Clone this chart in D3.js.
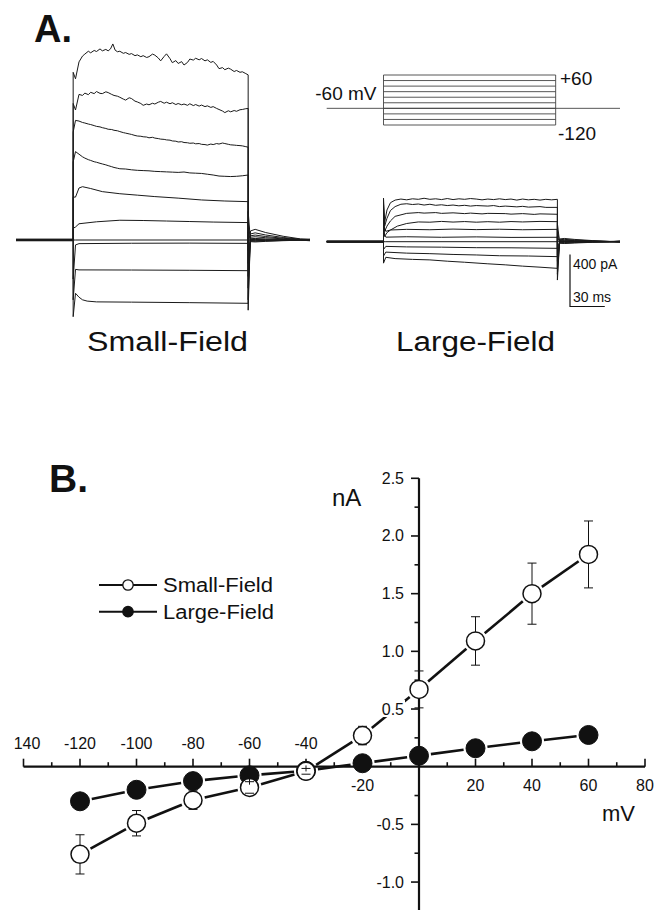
<!DOCTYPE html>
<html>
<head>
<meta charset="utf-8">
<script src="https://cdn.jsdelivr.net/npm/d3@7"></script>
<style>
  html, body { margin: 0; padding: 0; background: #fff; }
  svg { display: block; font-family: "Liberation Sans", Arial, Helvetica, sans-serif; }
</style>
</head>
<body>
<svg id="fig" width="662" height="910"></svg>
<script>
// ---------- panel A: current traces (t in ms, current in pA) ----------
const stepMv = [60, 40, 20, 0, -20, -40, -60, -80, -100, -120];

// small-field cell
const sfHold = [6, 4, 2, 0, -2, 3, -4, 1, -6, 5];
const sfOnSpike = [1290, 1050, 830, 600, 330, 90, 0, -300, -460, -590];
const sfOffSpike = [-540, -460, -370, -280, -180, -80, 0, 60, 140, 220];
const sf60 = [[2,1240],[5,1370],[8,1415],[10,1430],[13,1452],[15,1440],[18,1458],[20,1450],[23,1470],[25,1455],[28,1466],[30,1455],[32,1470],[34,1508],[36,1460],[38,1448],[40,1452],[43,1436],[45,1442],[48,1428],[50,1434],[53,1418],[55,1424],[58,1410],[60,1418],[63,1404],[65,1410],[68,1430],[70,1422],[73,1400],[75,1378],[78,1412],[80,1432],[83,1395],[85,1364],[88,1380],[90,1358],[93,1372],[95,1346],[98,1366],[100,1392],[103,1384],[105,1398],[108,1386],[110,1396],[113,1378],[115,1386],[118,1366],[120,1374],[123,1346],[125,1318],[128,1326],[130,1310],[133,1322],[135,1314],[138,1296],[140,1304],[143,1290],[145,1294],[148,1280],[150,1270]];
const sf40 = [[2,1000],[5,1120],[8,1112],[10,1130],[13,1118],[15,1136],[18,1126],[20,1142],[23,1128],[25,1126],[28,1140],[30,1134],[33,1120],[35,1112],[38,1106],[40,1098],[43,1084],[45,1076],[48,1094],[50,1088],[53,1068],[55,1062],[58,1050],[60,1036],[63,1046],[65,1040],[68,1052],[70,1046],[73,1060],[75,1066],[78,1052],[80,1060],[83,1048],[85,1056],[88,1042],[90,1050],[93,1040],[95,1046],[98,1036],[100,1048],[103,1034],[105,1042],[108,1030],[110,1038],[113,1026],[115,1032],[118,1020],[120,1026],[123,1012],[125,1004],[128,992],[130,980],[133,994],[135,986],[138,996],[140,990],[143,1002],[145,1004],[148,1010],[150,1012]];
const sf20 = [[2,920],[5,915],[8,904],[10,900],[13,892],[15,888],[18,880],[20,874],[23,870],[25,864],[28,858],[30,852],[33,850],[35,844],[38,840],[40,834],[43,826],[45,822],[48,816],[50,812],[53,804],[55,800],[58,798],[60,794],[63,792],[65,786],[68,790],[70,784],[73,780],[75,776],[78,774],[80,770],[83,768],[85,762],[88,760],[90,754],[93,756],[95,750],[98,748],[100,744],[103,746],[105,740],[108,742],[110,736],[113,734],[115,730],[118,738],[120,734],[123,742],[125,738],[128,746],[130,742],[133,736],[135,732],[138,730],[140,728],[143,726],[145,724],[148,718],[150,714]];
const sf0 = [[2,680],[5,660],[8,640],[10,630],[13,618],[15,612],[18,602],[20,598],[23,590],[25,585],[28,578],[30,572],[33,564],[35,558],[38,552],[40,548],[45,546],[50,540],[55,536],[60,534],[65,532],[70,528],[75,526],[80,524],[85,522],[90,520],[95,523],[100,516],[105,514],[110,512],[115,506],[120,500],[125,492],[130,490],[135,488],[140,490],[145,494],[150,500]];
const sfM20 = [[2,330],[5,400],[8,410],[15,396],[25,372],[40,356],[55,345],[70,334],[90,322],[110,308],[130,300],[150,295]];
const sfM40 = [[2,100],[5,125],[20,140],[40,152],[60,150],[80,146],[100,142],[120,138],[150,134]];
const sfM60 = [[2,0],[150,0]];
const sfM80 = [[2,-38],[5,-28],[50,-25],[100,-24],[150,-26]];
const sfM100 = [[2,-226],[5,-230],[50,-231],[100,-233],[150,-236]];
const sfM120 = [[2,-410],[5,-440],[8,-460],[12,-470],[20,-476],[50,-478],[100,-482],[150,-487]];
const sfBodies = [sf60, sf40, sf20, sf0, sfM20, sfM40, sfM60, sfM80, sfM100, sfM120];
const sfTailPeak = [82, 55, 38, 25, 12, 4, 0, -5, -10, -15];

// large-field cell
const lfHold = [4, -3, 2, -1, 3, -4, 0, 2, -2, 5];
const lfOnSpike = [335, 290, 240, 180, 120, 60, 0, -60, -110, -165];
const lfOffSpike = [-295, -250, -200, -150, -100, -50, 0, 40, 90, 140];
const lf60 = [[1,150],[3,244],[6,300],[10,320],[15,328],[20,322],[25,330],[30,326],[35,334],[40,326],[45,330],[50,324],[55,332],[60,324],[65,330],[70,326],[75,332],[80,328],[85,322],[90,328],[95,324],[100,330],[105,324],[110,328],[115,320],[120,328],[125,322],[130,326],[135,320],[140,326],[145,322],[150,326]];
const lf40 = [[1,120],[3,180],[6,240],[10,270],[15,288],[20,292],[25,286],[30,290],[35,282],[40,288],[45,280],[50,284],[55,278],[60,282],[65,276],[70,280],[75,274],[80,278],[90,274],[95,278],[100,270],[105,274],[115,268],[120,272],[125,266],[135,270],[140,264],[150,264]];
const lf20 = [[1,80],[3,120],[6,160],[10,195],[20,218],[30,224],[35,220],[45,224],[50,218],[60,222],[70,216],[75,220],[85,214],[90,218],[105,216],[110,212],[120,216],[130,210],[135,214],[150,211]];
const lf0 = [[1,40],[3,70],[6,90],[12,120],[20,140],[30,152],[40,150],[50,156],[60,151],[70,155],[80,150],[90,154],[100,150],[110,155],[120,152],[135,156],[150,154]];
const lfM20 = [[2,80],[6,90],[20,95],[40,92],[60,97],[80,93],[100,96],[120,92],[150,95]];
const lfM40 = [[2,35],[20,38],[50,34],[80,37],[110,33],[150,34]];
const lfM60 = [[2,0],[150,0]];
const lfM80 = [[2,-36],[20,-40],[50,-42],[80,-46],[110,-47],[150,-51]];
const lfM100 = [[2,-80],[20,-88],[40,-92],[60,-98],[80,-102],[100,-108],[125,-110],[150,-115]];
const lfM120 = [[2,-120],[10,-130],[25,-136],[40,-140],[55,-150],[70,-158],[90,-170],[105,-178],[120,-188],[135,-196],[150,-205]];
const lfBodies = [lf60, lf40, lf20, lf0, lfM20, lfM40, lfM60, lfM80, lfM100, lfM120];
const lfTailPeak = [25, 18, 12, 8, 4, 2, 0, -6, -10, -14];

const holdingMv = -60;

// ---------- panel B: I-V relation ----------
const ivMv = [-120, -100, -80, -60, -40, -20, 0, 20, 40, 60];
const smallFieldNa = [-0.76, -0.49, -0.29, -0.18, -0.04, 0.27, 0.67, 1.09, 1.50, 1.84];
const smallFieldSem = [0.17, 0.11, 0.08, 0.05, 0.025, 0.08, 0.16, 0.21, 0.265, 0.29];
const largeFieldNa = [-0.30, -0.20, -0.125, -0.075, -0.035, 0.03, 0.095, 0.16, 0.22, 0.275];
const xTickValues = [-140, -120, -100, -80, -60, -40, -20, 20, 40, 60, 80];
const xTickText = ["140", "-120", "-100", "-80", "-60", "-40", "-20", "20", "40", "60", "80"];
const yTickValues = [2.5, 2.0, 1.5, 1.0, 0.5, -0.5, -1.0];

const svg = d3.select("#fig");
const ink = "#111";

// ================= Panel A =================
svg.append("text").attr("x", 34).attr("y", 42)
  .attr("font-size", 38).attr("font-weight", "bold").attr("fill", ink).text("A.");

const sfX = d3.scaleLinear([-49, 203], [16, 310]);
const sfY = d3.scaleLinear([0, 1000], [240, 110]);
const lfX = d3.scaleLinear([-49, 204], [326.7, 620]);
const lfY = d3.scaleLinear([0, 1000], [241.7, 111.7]);
const vY = d3.scaleLinear([-120, 60], [125, 75]);

function tracePoints(i, hold, onSpike, body, offSpike, tailPeak, tEnd) {
  const pts = [[-49, hold[i]], [0, hold[i]], [0, onSpike[i]]];
  body.forEach(p => pts.push(p));
  pts.push([150, offSpike[i]]);
  const tp = tailPeak[i];
  pts.push([152, tp * 0.85], [156, tp], [165, tp * 0.7], [180, tp * 0.35], [195, tp * 0.1], [tEnd, hold[i]]);
  return pts;
}

const sfLine = d3.line().x(d => sfX(d[0])).y(d => sfY(d[1]));
const lfLine = d3.line().x(d => lfX(d[0])).y(d => lfY(d[1]));

svg.append("g").selectAll("path")
  .data(stepMv.map((mv, i) => tracePoints(i, sfHold, sfOnSpike, sfBodies[i], sfOffSpike, sfTailPeak, 203)))
  .join("path")
  .attr("d", sfLine).attr("fill", "none").attr("stroke", "#1a1a1a").attr("stroke-width", 1);

svg.append("g").selectAll("path")
  .data(stepMv.map((mv, i) => tracePoints(i, lfHold, lfOnSpike, lfBodies[i], lfOffSpike, lfTailPeak, 204)))
  .join("path")
  .attr("d", lfLine).attr("fill", "none").attr("stroke", "#1a1a1a").attr("stroke-width", 1);

// voltage protocol
const proto = svg.append("g").attr("stroke", "#444").attr("stroke-width", 0.9).attr("fill", "none");
proto.append("line")
  .attr("x1", lfX(-49)).attr("x2", lfX(204)).attr("y1", vY(holdingMv)).attr("y2", vY(holdingMv));
proto.selectAll("line.step").data(stepMv).join("line").attr("class", "step")
  .attr("x1", lfX(0)).attr("x2", lfX(148.5)).attr("y1", d => vY(d)).attr("y2", d => vY(d));
[0, 148.5].forEach(t => {
  proto.append("line").attr("x1", lfX(t)).attr("x2", lfX(t))
    .attr("y1", vY(d3.max(stepMv))).attr("y2", vY(d3.min(stepMv)));
});
svg.append("text").attr("x", 376.5).attr("y", vY(holdingMv) - 8).attr("text-anchor", "end")
  .attr("font-size", 19).attr("fill", ink).text("-60 mV");
svg.append("text").attr("x", 560).attr("y", vY(60) + 9.5)
  .attr("font-size", 19).attr("fill", ink).text("+60");
svg.append("text").attr("x", 558).attr("y", vY(-120) + 15)
  .attr("font-size", 19).attr("fill", ink).text("-120");

// scale bar: 400 pA / 30 ms
const sbX = 570, sbY = 306.5;
const sbH = lfY(0) - lfY(400);
const sbW = lfX(30) - lfX(0);
svg.append("path")
  .attr("d", `M${sbX},${sbY - sbH}V${sbY}H${sbX + sbW}`)
  .attr("fill", "none").attr("stroke", ink).attr("stroke-width", 1.2);
svg.append("text").attr("x", sbX + 3).attr("y", sbY - sbH + 14)
  .attr("font-size", 14).attr("fill", ink).text("400 pA");
svg.append("text").attr("x", sbX + 3).attr("y", sbY - 5)
  .attr("font-size", 14).attr("fill", ink).text("30 ms");

svg.append("text").attr("x", 87).attr("y", 351).attr("font-size", 27)
  .attr("textLength", 161).attr("lengthAdjust", "spacingAndGlyphs").attr("fill", ink).text("Small-Field");
svg.append("text").attr("x", 396).attr("y", 351).attr("font-size", 27)
  .attr("textLength", 159).attr("lengthAdjust", "spacingAndGlyphs").attr("fill", ink).text("Large-Field");

// ================= Panel B =================
svg.append("text").attr("x", 49).attr("y", 492)
  .attr("font-size", 39).attr("font-weight", "bold").attr("fill", ink).text("B.");

const x = d3.scaleLinear([-140, 80], [23.5, 645]);
const y = d3.scaleLinear([-1.25, 2.5], [910.9, 478.3]);

const axes = svg.append("g").attr("stroke", ink);
axes.append("line").attr("x1", x(-140)).attr("x2", x(80)).attr("y1", y(0)).attr("y2", y(0)).attr("stroke-width", 2.2);
axes.append("line").attr("x1", x(0)).attr("x2", x(0)).attr("y1", y(2.5)).attr("y2", y(-1.25)).attr("stroke-width", 2.2);
axes.selectAll("line.xt").data(d3.range(-140, 81, 10)).join("line").attr("class", "xt")
  .attr("x1", d => x(d)).attr("x2", d => x(d))
  .attr("y1", y(0)).attr("y2", d => y(0) - (d % 20 === 0 ? 8 : 4.5))
  .attr("stroke-width", 1.6);
axes.selectAll("line.yt").data(d3.range(-1.0, 2.51, 0.25).filter(v => Math.abs(v) > 1e-6)).join("line").attr("class", "yt")
  .attr("x1", x(0)).attr("x2", d => x(0) - (Math.abs(d * 2 - Math.round(d * 2)) < 1e-6 ? 8 : 4.5))
  .attr("y1", d => y(d)).attr("y2", d => y(d))
  .attr("stroke-width", 1.6);

svg.append("g").selectAll("text").data(xTickValues).join("text")
  .attr("x", (d, i) => x(d) + (i === 0 ? 3.5 : 0))
  .attr("y", d => d <= -40 ? y(0) - 18 : y(0) + 24.5)
  .attr("text-anchor", "middle").attr("font-size", 16).attr("fill", ink)
  .text((d, i) => xTickText[i]);

svg.append("text").attr("x", 332).attr("y", 506).attr("font-size", 24).attr("fill", ink).text("nA");
svg.append("text").attr("x", 602).attr("y", 821).attr("font-size", 22).attr("fill", ink).text("mV");

const r = 9;
function segments(values) {
  const pts = ivMv.map((mv, i) => [x(mv), y(values[i])]);
  const segs = [];
  for (let i = 0; i < pts.length - 1; i++) {
    const [x1, y1] = pts[i], [x2, y2] = pts[i + 1];
    const d = Math.hypot(x2 - x1, y2 - y1);
    const ux = (x2 - x1) / d, uy = (y2 - y1) / d, g = r + 3;
    if (d > 2 * g) segs.push([x1 + ux * g, y1 + uy * g, x2 - ux * g, y2 - uy * g]);
  }
  return segs;
}

function drawLines(values) {
  svg.append("g").selectAll("line").data(segments(values)).join("line")
    .attr("x1", d => d[0]).attr("y1", d => d[1]).attr("x2", d => d[2]).attr("y2", d => d[3])
    .attr("stroke", ink).attr("stroke-width", 2.6);
}

// large-field (filled) below small-field (open)
drawLines(largeFieldNa);
svg.append("g").selectAll("circle").data(ivMv).join("circle")
  .attr("cx", d => x(d)).attr("cy", (d, i) => y(largeFieldNa[i])).attr("r", r + 0.5)
  .attr("fill", ink).attr("stroke", ink).attr("stroke-width", 1);
drawLines(smallFieldNa);

// y tick labels with white boxes (they break the line near 0.5)
const yl = svg.append("g").selectAll("g").data(yTickValues).join("g");
yl.append("rect")
  .attr("x", x(0) - 42).attr("y", d => y(d) - 9).attr("width", 28).attr("height", 17).attr("fill", "#fff");
yl.append("text")
  .attr("x", x(0) - 15).attr("y", d => y(d) + 5.5).attr("text-anchor", "end")
  .attr("font-size", 16).attr("fill", ink).text(d => d3.format(".1f")(d).replace("\u2212", "-"));

// error bars and open markers
const eb = svg.append("g").attr("stroke", ink).attr("stroke-width", 1);
ivMv.forEach((mv, i) => {
  const cx = x(mv), cy = y(smallFieldNa[i]);
  const e = y(smallFieldNa[i] - smallFieldSem[i]) - cy;
  if (e > r) {
    eb.append("line").attr("x1", cx).attr("x2", cx).attr("y1", cy - e).attr("y2", cy - r);
    eb.append("line").attr("x1", cx).attr("x2", cx).attr("y1", cy + r).attr("y2", cy + e);
  }
});
svg.append("g").selectAll("circle").data(ivMv).join("circle")
  .attr("cx", d => x(d)).attr("cy", (d, i) => y(smallFieldNa[i])).attr("r", r)
  .attr("fill", "#fff").attr("stroke", ink).attr("stroke-width", 1.5);
const caps = svg.append("g").attr("stroke", ink).attr("stroke-width", 1);
ivMv.forEach((mv, i) => {
  const cx = x(mv), cy = y(smallFieldNa[i]);
  const e = y(smallFieldNa[i] - smallFieldSem[i]) - cy;
  [cy - e, cy + e].forEach(cyCap => {
    caps.append("line").attr("x1", cx - 4.5).attr("x2", cx + 4.5).attr("y1", cyCap).attr("y2", cyCap);
  });
  if (e < r - 1) {
    caps.append("line").attr("x1", cx).attr("x2", cx).attr("y1", cy - e - 3).attr("y2", cy - e + 3);
  }
});

// legend
const legend = [
  { name: "Small-Field", fill: "#fff", len: 110 },
  { name: "Large-Field", fill: ink, len: 111 }
];
const lg = svg.append("g").selectAll("g").data(legend).join("g")
  .attr("transform", (d, i) => `translate(0, ${585 + i * 26.7})`);
lg.append("line").attr("x1", 99).attr("x2", 157).attr("y1", 0).attr("y2", 0)
  .attr("stroke", ink).attr("stroke-width", 2);
lg.append("circle").attr("cx", 128).attr("cy", 0).attr("r", 5.2)
  .attr("fill", d => d.fill).attr("stroke", ink).attr("stroke-width", 1.3);
lg.append("text").attr("x", 163).attr("y", 7.3).attr("font-size", 20)
  .attr("textLength", d => d.len).attr("lengthAdjust", "spacingAndGlyphs")
  .attr("fill", ink).text(d => d.name);
</script>
</body>
</html>
